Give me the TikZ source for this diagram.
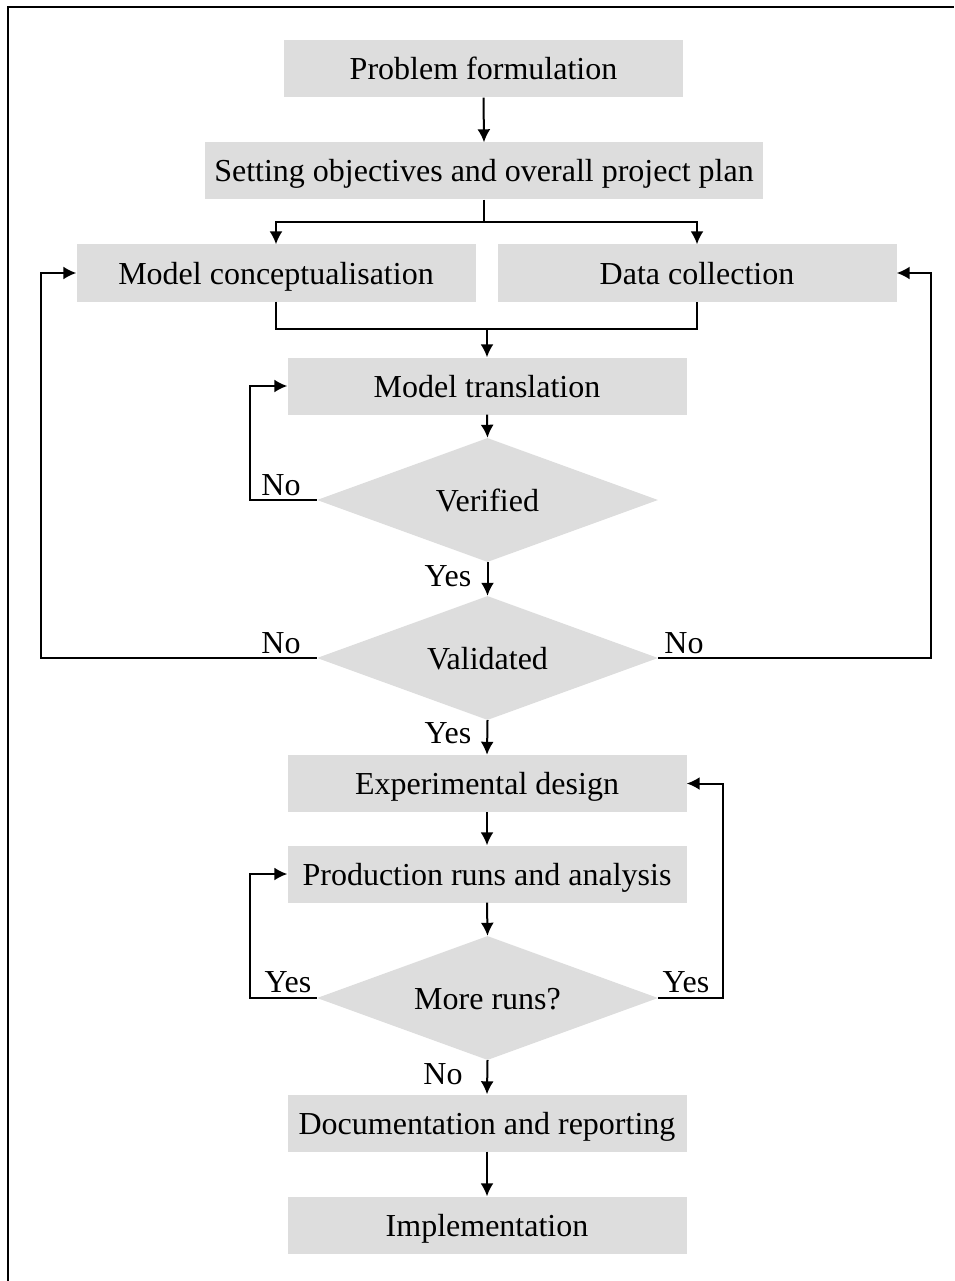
\documentclass[tikz,border=0pt]{standalone}
\usepackage{fontspec}
\setmainfont{Liberation Serif}
\usetikzlibrary{arrows.meta,shapes.geometric}
\definecolor{boxgray}{HTML}{DDDDDD}
\tikzset{
  txt/.style={font=\fontsize{32}{38}\selectfont, text height=26pt, text depth=4pt},
  stepbox/.style={txt, rectangle, fill=boxgray, inner sep=0pt, minimum width=399pt, minimum height=57pt},
  decision/.style={txt, diamond, aspect=2.75, fill=boxgray, inner sep=0pt, minimum width=341pt, minimum height=124pt},
  lbl/.style={txt, inner sep=0pt},
  conn/.style={line width=2pt},
  arr/.style={conn, -{Latex[length=13pt,width=13pt]}},
}
\begin{document}
\begin{tikzpicture}[x=1pt,y=1pt]
\useasboundingbox (0,0) rectangle (954,-1281);
% frame (top and left edges)
\draw[line width=2pt] (8,-1281) -- (8,-7) -- (954,-7);

% process boxes
\node[stepbox] (pf) at (483.5,-69) {Problem formulation};
\node[stepbox, minimum width=558pt] (so) at (484,-171) {Setting objectives and overall project plan};
\node[stepbox] (mc) at (276,-273) {Model conceptualisation};
\node[stepbox] (dc) at (697,-273) {Data collection};
\node[stepbox] (mt) at (487,-386) {Model translation};
\node[decision] (ver) at (487.5,-500) {Verified};
\node[decision] (val) at (487.5,-658) {Validated};
\node[stepbox] (ed) at (487,-783.5) {Experimental design};
\node[stepbox] (pr) at (487,-874) {Production runs and analysis};
\node[decision] (mr) at (487.5,-998) {More runs?};
\node[stepbox] (doc) at (487,-1123) {Documentation and reporting};
\node[stepbox] (imp) at (487,-1225) {Implementation};

% branching and merging points
\coordinate (split) at (484,-222);
\coordinate (merge) at (487,-329);
\coordinate (lft) at (41,-658);
\coordinate (rgt) at (931,-658);

% main flow
\draw[arr] (pf.south) -- (so.north);
\draw[conn] (so.south) -- (split);
\draw[arr] (split) -| (mc.north);
\draw[arr] (split) -| (dc.north);
\draw[conn] (mc.south) |- (merge) -| (dc.south);
\draw[arr] (merge) -- (mt.north);
\draw[arr] (mt.south) -- (ver.north);
\draw[arr] (ver.south) -- (val.north);
\draw[arr] (val.south) -- (ed.north);
\draw[arr] (ed.south) -- (pr.north);
\draw[arr] (pr.south) -- (mr.north);
\draw[arr] (mr.south) -- (doc.north);
\draw[arr] (doc.south) -- (imp.north);

% feedback loops
\draw[arr] (ver.west) -- ++(-67,0) |- (mt.west);
\draw[arr] (val.west) -- (lft) |- (mc.west);
\draw[arr] (val.east) -- (rgt) |- (dc.east);
\draw[arr] (mr.west) -- ++(-67,0) |- (pr.west);
\draw[arr] (mr.east) -- ++(65,0) |- (ed.east);

% branch labels
\node[lbl] (l1) at (281,-484) {No};
\node[lbl] (l2) at (448,-575) {Yes};
\node[lbl] (l3) at (281,-642) {No};
\node[lbl] (l4) at (684,-642) {No};
\node[lbl] (l5) at (448,-732) {Yes};
\node[lbl] (l6) at (288,-981) {Yes};
\node[lbl] (l7) at (686,-981) {Yes};
\node[lbl] (l8) at (443,-1073) {No};
\end{tikzpicture}
\end{document}
